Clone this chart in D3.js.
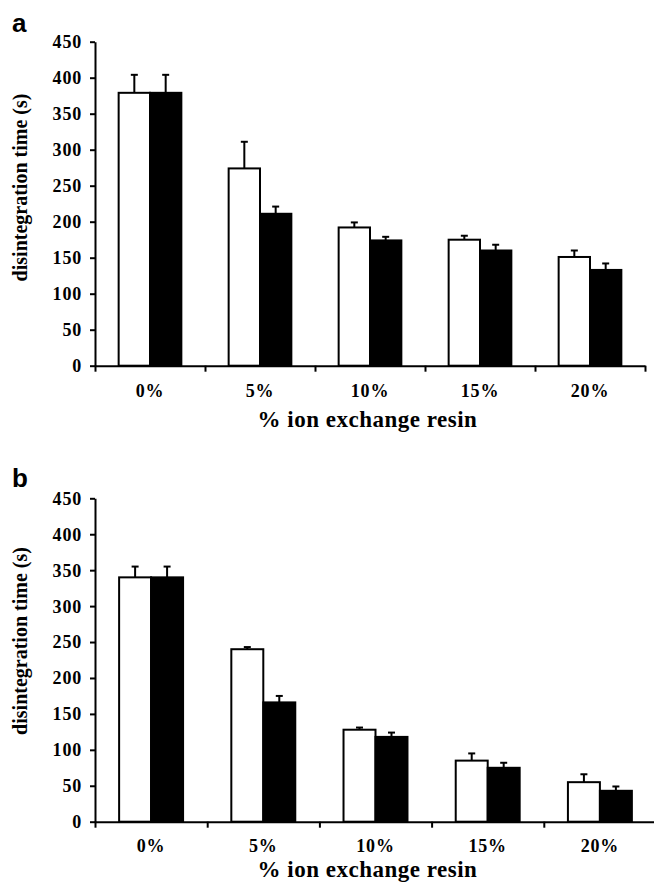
<!DOCTYPE html>
<html>
<head>
<meta charset="utf-8">
<script src="https://cdn.jsdelivr.net/npm/d3@7"></script>
<style>
  html, body { margin: 0; padding: 0; background: #fff; }
  svg { display: block; }
  .tick text, .lbl { font-family: "Liberation Serif", "Times New Roman", serif; font-weight: bold; fill: #000; }
</style>
</head>
<body>
<svg id="chart" width="654" height="887"></svg>
<script>
// Resin content levels (x categories)
const categories = ["0%", "5%", "10%", "15%", "20%"];
const yTicks = [0, 50, 100, 150, 200, 250, 300, 350, 400, 450];

// Panel a: disintegration time (s), mean and upper error
const aWhite    = [379, 274, 192, 175, 151];
const aWhiteErr = [25, 37, 7, 5.5, 9];
const aBlack    = [379, 211, 174, 160, 133];
const aBlackErr = [25, 10, 5, 8, 9];

// Panel b: disintegration time (s), mean and upper error
const bWhite    = [340, 240, 128, 85, 55];
const bWhiteErr = [15, 3, 3, 10, 11];
const bBlack    = [340, 166, 118, 75, 43];
const bBlackErr = [15, 9, 6, 7, 6];

const svg = d3.select("#chart");

function panel(opts) {
  const { letter, letterY, x0, x1, yTop, yBottom, white, whiteErr, black, blackErr,
          yTitleCenter, xTitleY, labelPad } = opts;
  const g = svg.append("g");

  const x = d3.scaleBand().domain(categories).range([x0, x1]).padding(0);
  const xLin = d3.scaleLinear().domain([0, categories.length]).range([x0, x1]);
  const y = d3.scaleLinear().domain([0, 450]).range([yBottom, yTop]);
  const bw = x.bandwidth();
  const barW = bw * 0.285;
  const sub = d3.scaleBand().domain(["white", "black"]).range([bw / 2 - barW, bw / 2 + barW]).padding(0);

  const bars = [];
  categories.forEach((c, i) => {
    bars.push({ c, key: "white", v: white[i], e: whiteErr[i] });
    bars.push({ c, key: "black", v: black[i], e: blackErr[i] });
  });

  // error bars (upper only), drawn beneath the bars
  const eb = g.append("g").attr("stroke", "#000").attr("stroke-width", 2);
  bars.forEach(d => {
    const cx = x(d.c) + sub(d.key) + sub.bandwidth() / 2;
    eb.append("line").attr("x1", cx).attr("x2", cx).attr("y1", y(d.v)).attr("y2", y(d.v + d.e));
    eb.append("line").attr("x1", cx - 3.5).attr("x2", cx + 3.5).attr("y1", y(d.v + d.e)).attr("y2", y(d.v + d.e));
  });

  // bars
  g.append("g").selectAll("rect").data(bars).join("rect")
    .attr("x", d => x(d.c) + sub(d.key))
    .attr("y", d => y(d.v))
    .attr("width", sub.bandwidth())
    .attr("height", d => y(0) - y(d.v))
    .attr("fill", d => d.key === "white" ? "#fff" : "#000")
    .attr("stroke", "#000")
    .attr("stroke-width", 2);

  // y axis
  const ya = g.append("g").attr("transform", `translate(${x0},0)`)
    .call(d3.axisLeft(y).tickValues(yTicks).tickSize(5).tickSizeOuter(0).tickPadding(8));
  ya.select(".domain").attr("stroke-width", 2);
  ya.selectAll(".tick line").attr("stroke-width", 2);
  ya.selectAll(".tick text").attr("font-size", 18).attr("letter-spacing", 0.8).attr("dy", "0.33em");

  // x axis line with ticks at category boundaries
  const xa = g.append("g").attr("transform", `translate(0,${yBottom})`)
    .call(d3.axisBottom(xLin).tickValues(d3.range(categories.length + 1)).tickFormat("").tickSize(6).tickSizeOuter(0));
  xa.select(".domain").attr("stroke-width", 2);
  xa.selectAll(".tick line").attr("stroke-width", 2);

  // category labels
  const xl = g.append("g").attr("transform", `translate(0,${yBottom})`)
    .call(d3.axisBottom(x).tickSize(0).tickPadding(labelPad));
  xl.select(".domain").remove();
  xl.selectAll(".tick text").attr("font-size", 18).attr("letter-spacing", 0.8);

  // axis titles
  g.append("text").attr("class", "lbl")
    .attr("transform", `translate(27,${yTitleCenter}) rotate(-90)`)
    .attr("text-anchor", "middle").attr("font-size", 20)
    .text("disintegration time (s)");
  g.append("text").attr("class", "lbl")
    .attr("x", 367.5).attr("y", xTitleY)
    .attr("text-anchor", "middle").attr("font-size", 23).attr("letter-spacing", 0.5)
    .text("% ion exchange resin");

  // panel letter
  g.append("text")
    .attr("x", 12).attr("y", letterY)
    .attr("font-family", "Liberation Sans, Arial, sans-serif").attr("font-weight", "bold")
    .attr("font-size", 26).text(letter);
}

panel({ letter: "a", letterY: 32, x0: 95, x1: 645, yTop: 41.7, yBottom: 365.7,
        white: aWhite, whiteErr: aWhiteErr, black: aBlack, blackErr: aBlackErr,
        yTitleCenter: 187.5, xTitleY: 427, labelPad: 19 });
panel({ letter: "b", letterY: 487, x0: 95, x1: 656, yTop: 498.3, yBottom: 821.7,
        white: bWhite, whiteErr: bWhiteErr, black: bBlack, blackErr: bBlackErr,
        yTitleCenter: 641, xTitleY: 877, labelPad: 17.5 });
</script>
</body>
</html>
